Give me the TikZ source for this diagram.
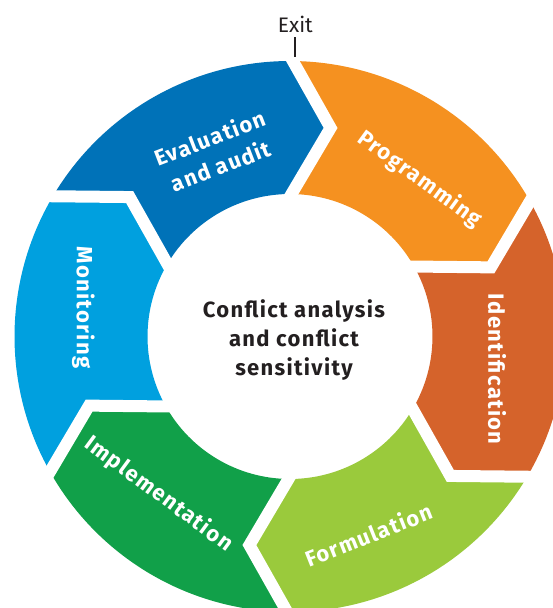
\documentclass[tikz,border=0pt]{standalone}
\usepackage{fontspec}
\setmainfont{Fira Sans}
\newfontfamily\labelfamily[LetterSpace=6.0]{Fira Sans}
\usetikzlibrary{calc}

\definecolor{evalblue}{RGB}{0,114,184}
\definecolor{progorange}{RGB}{245,145,32}
\definecolor{identred}{RGB}{213,99,43}
\definecolor{formgreen}{RGB}{154,202,60}
\definecolor{implgreen}{RGB}{17,160,73}
\definecolor{monitblue}{RGB}{0,160,223}
\definecolor{inktext}{RGB}{35,31,32}

\tikzset{
  ringlabel/.style={text=white, inner sep=0pt, align=center,
    font=\labelfamily\bfseries\fontsize{22}{30}\selectfont},
  coretext/.style={text=inktext, inner sep=0pt, align=center,
    font=\labelfamily\bfseries\fontsize{22}{29}\selectfont},
  exitlabel/.style={text=inktext, inner sep=0pt,
    font=\fontsize{21}{25}\selectfont},
  gapline/.style={draw=white, line width=12pt, line join=miter, line cap=butt},
  exitmark/.style={draw=inktext, line width=2.2pt},
}

\begin{document}
\begin{tikzpicture}[x=1pt,y=1pt]
\clip (-290,-271.5) rectangle (263,336.5);
\fill[white] (-290,-271.5) rectangle (263,336.5);

% ring: outer/inner radius, chevron mid radius, chevron tip offset, twist
\def\Ro{275.5}\def\Ri{142.5}\def\Rm{209}\def\Hc{38.4}\def\Tw{-0.6}

% six arrow segments, clockwise from the top
\foreach \k/\col in {0/progorange,1/identred,2/formgreen,3/implgreen,4/monitblue,5/evalblue}{
  \pgfmathsetmacro\a{90+\Tw-60*\k}
  \pgfmathsetmacro\b{\a-60}
  \pgfmathsetmacro\ap{\a-90}
  \pgfmathsetmacro\bp{\b-90}
  \fill[\col] (\a:\Ro) arc[start angle=\a, end angle=\b, radius=\Ro pt]
     -- ($(\b:\Rm)+(\bp:\Hc)$) -- (\b:\Ri)
     arc[start angle=\b, end angle=\a, radius=\Ri pt]
     -- ($(\a:\Rm)+(\ap:\Hc)$) -- cycle;
}

% white gaps along each chevron boundary
\foreach \k in {0,...,5}{
  \pgfmathsetmacro\a{90+\Tw-60*\k}
  \pgfmathsetmacro\ap{\a-90}
  \coordinate (tip\k) at ($(\a:\Rm)+(\ap:\Hc)$);
  \draw[gapline] ($(tip\k)!1.18!(\a:\Ro)$) -- (tip\k) -- ($(tip\k)!1.18!(\a:\Ri)$);
}

% segment labels
\node[ringlabel, rotate=21] (evaluation) at (-74.8,184.8) {Evaluation\\and audit};
\node[ringlabel, rotate=-36] (programming) at (129.8,157.3) {Programming};
\node[ringlabel, rotate=-90] (identification) at (207.2,-32.7) {Identification};
\node[ringlabel, rotate=21.6] (formulation) at (78.6,-198.3) {Formulation};
\node[ringlabel, rotate=-36.4] (implementation) at (-131.3,-157.5) {Implementation};
\node[ringlabel, rotate=-90] (monitoring) at (-206.6,29) {Monitoring};

% centre text
\node[coretext] (core) at (4,-3.65) {Conflict analysis\\and conflict\\sensitivity};

% exit marker
\node[exitlabel, anchor=base] (exit) at (5.3,304.2) {Exit};
\coordinate (exitfoot) at (5.3,279.5);
\draw[exitmark] ([yshift=-5pt]exit.base) -- (exitfoot);
\end{tikzpicture}
\end{document}
